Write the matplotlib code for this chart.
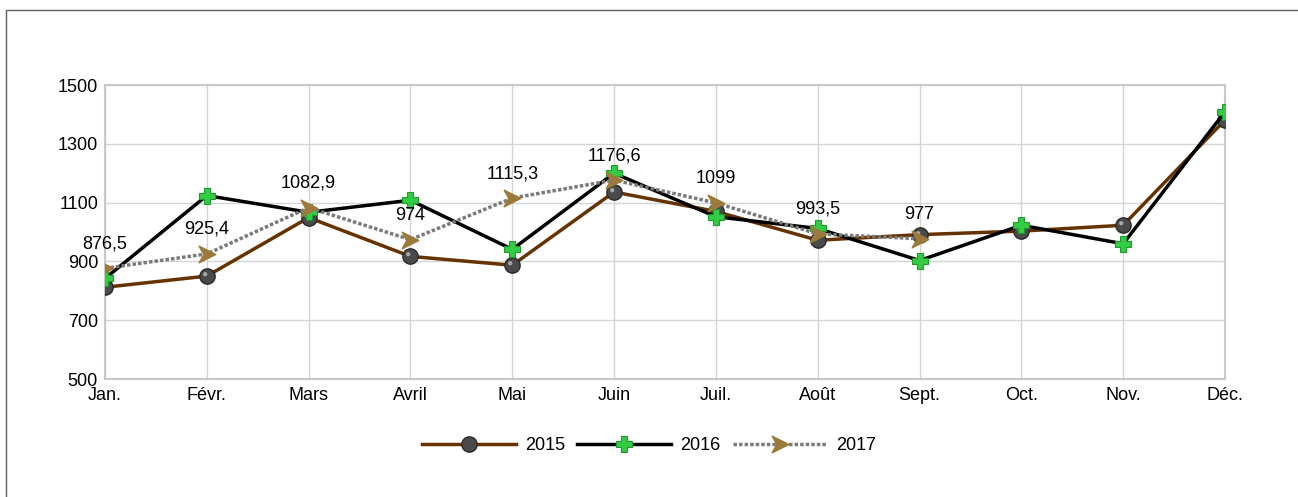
import matplotlib
matplotlib.use("Agg")
import matplotlib.pyplot as plt
from matplotlib.path import Path
from matplotlib.patches import Rectangle
import numpy as np

plt.rcParams['font.family'] = ['Liberation Sans', 'DejaVu Sans']

months = ["Jan.", "Févr.", "Mars", "Avril", "Mai", "Juin", "Juil.", "Août",
          "Sept.", "Oct.", "Nov.", "Déc."]
y2015 = [812, 850, 1049, 917, 887, 1136, 1070, 972, 991, 1003, 1023, 1381]
y2016 = [842, 1124, 1067, 1108, 941, 1200, 1052, 1012, 903, 1023, 960, 1409]
y2017 = [876.5, 925.4, 1082.9, 974, 1115.3, 1176.6, 1099, 993.5, 977]
labels2017 = ["876,5", "925,4", "1082,9", "974", "1115,3", "1176,6", "1099", "993,5", "977"]
yticks = [500, 700, 900, 1100, 1300, 1500]

FS = 13

fig = plt.figure(figsize=(12.98, 4.97), dpi=100)
ax = fig.add_axes([105/1298, 1-379/497, (1225-105)/1298, (379-85)/497])

x = list(range(len(months)))
x17 = x[:len(y2017)]

chevron = Path([(-1, 1), (1, 0), (-1, -1), (-0.45, 0), (-1, 1)],
               [Path.MOVETO, Path.LINETO, Path.LINETO, Path.LINETO, Path.CLOSEPOLY])

# highlight for the sphere marker (small offset circle, scaled with a hidden anchor vertex)
t = np.linspace(0, 2*np.pi, 30)
hv = np.column_stack([-0.3 + 0.28*np.cos(t), 0.3 + 0.28*np.sin(t)])
verts = np.vstack([[[1, -1]], hv])
codes = [Path.MOVETO, Path.MOVETO] + [Path.LINETO]*(len(hv)-2) + [Path.CLOSEPOLY]
highlight = Path(verts, codes)

l15, = ax.plot(x, y2015, color='#663300', lw=2.5, marker='o', ms=11,
               mfc='#4a4a4a', mec='#2a2a2a', mew=1, zorder=3, label='2015')
ax.plot(x, y2015, ls='none', marker=highlight, ms=11, mfc='#a8a8a8', mec='none', zorder=3.1)
l16, = ax.plot(x, y2016, color='#000000', lw=2.5, marker='P', ms=11,
               mfc='#33cc44', mec='#1f9a2e', mew=0.8, zorder=4, label='2016')
l17, = ax.plot(x17, y2017, color='#7a7a7a', lw=2.5, ls=(0, (1, 0.6)), marker=chevron, ms=12,
               mfc='#9c7a3c', mec='#9c7a3c', zorder=5, label='2017')

for xi, yi, tx in zip(x17, y2017, labels2017):
    ax.annotate(tx, (xi, yi), xytext=(0, 11.5), textcoords='offset points',
                ha='center', va='bottom', fontsize=FS, color='black', zorder=6)

ax.set_xlim(0, len(months) - 1)
ax.set_ylim(500, 1500)
ax.set_yticks(yticks)
ax.set_xticks(x)
ax.set_xticklabels(months)
ax.tick_params(length=0, labelsize=FS, colors='black')
ax.tick_params(axis='x', pad=6)
ax.tick_params(axis='y', pad=5)
ax.grid(True, color='#d4d4d4', lw=1)
ax.set_axisbelow(True)
for s in ax.spines.values():
    s.set_color('#c8c8c8')
    s.set_linewidth(1.5)

leg = fig.legend(handles=[l15, l16, l17], loc='center', bbox_to_anchor=(0.5, 1-446/497),
                 ncol=3, frameon=False, fontsize=FS, handlelength=5.2,
                 handletextpad=0.5, columnspacing=0.7)

fig.patches.append(Rectangle((5.5/1298, -0.1), 1.2, 1 - 9.5/497 + 0.1,
                             transform=fig.transFigure, fill=False,
                             edgecolor='#606060', lw=1))

fig.savefig("out.png", dpi=100)
